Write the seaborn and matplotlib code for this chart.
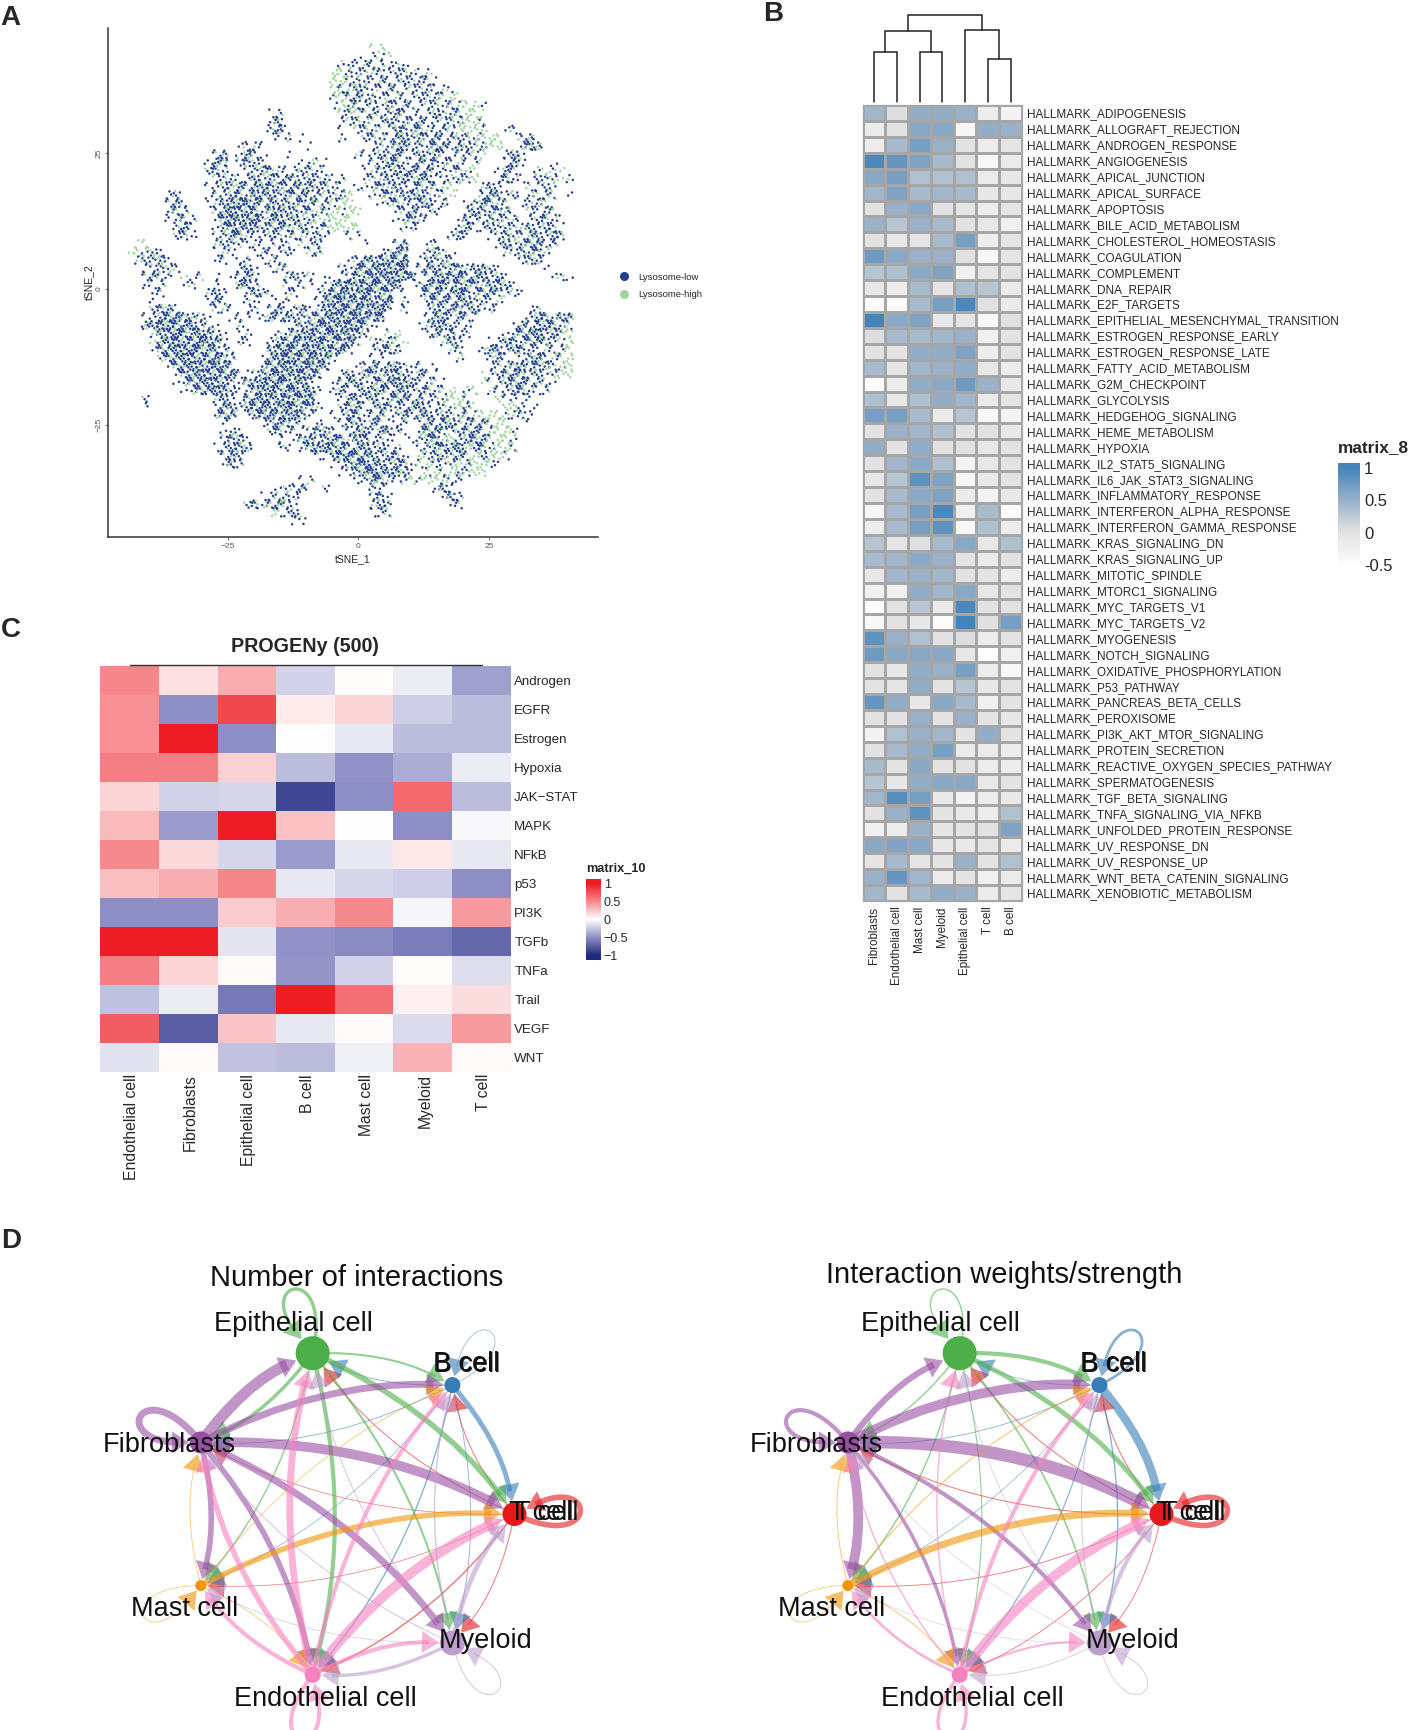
import numpy as np, pandas as pd
import matplotlib
matplotlib.use("Agg")
import matplotlib.pyplot as plt
from matplotlib.colors import LinearSegmentedColormap
from matplotlib.path import Path
from matplotlib.patches import PathPatch, Polygon, Circle
from matplotlib.lines import Line2D
from matplotlib.transforms import ScaledTranslation
import seaborn as sns

sns.set_style("white")
plt.rcParams['font.family'] = ['Liberation Sans', 'DejaVu Sans']

W, H = 1411, 1730
fig = plt.figure(figsize=(W/100, H/100), dpi=100)

def box(l, t, r, b):
    return fig.add_axes([l/W, 1-b/H, (r-l)/W, (b-t)/H])

def ftext(x, y, s, **k):
    k.setdefault('ha', 'center'); k.setdefault('va', 'center')
    fig.text(x/W, 1-y/H, s, **k)

# ---------- A: tSNE, one map character per 1.5 x 1.5 tSNE cell
TSNE_MAP = [
"                               oO",
"                             . x.o",
"                           x:.+:x.:.",
"                          OO+:x:+.:+:.x",
"                          OOx+:.+:x::+:.",
"                          O+x%:.:+:.x:+.x.",
"                          xO+#:+.:x:.::+xOo",
"                          .Ox+::.%:+:.x:.+xOO.",
"                  .:       x+O:+x:#:.:.%:x+OOo",
"                  :#       .x+:x:%:::%.:x+xOOx",
"                  :#.      . x+:x.%#:%::+xOOOx  .:",
"                   .x .    :  :+x.%#:%:#.+:+xOOO  :%",
"              .::.     .       .x:%#:::%#:%:x+OO  :#%",
"           :# .#:.  .        x.:%:#::%:%:.x+xo  :#.",
"          .#% :#+.    .:x.    .x:%#:.%:#::x.xo  .#:   .",
"          :#x  x:%+:.x:+:     .x+:%:#:%.:.+xo  .%:  xoxo",
"           x:+.:%x%:#+:%:+.:  .x:%:#:%#.:x+xO  .#:. +:xo:",
"          .:+x%:#%#%:#+%:+x. .x:#:%:.%:+xOo  :%:   x.+x",
"     :+   .x:%#:#%#:%+#:+x:+O  x:#:%#%:.xo   :#%.+ :x:x .",
"     :#.  .:#%#*%:#+%:#+x+xOO   .x%::#%.+  .:#%:x .:+x",
"     :+:   :%*#%#:%#+%:+x+OxOO    .:%:x:   :#%:#+  x.+:",
"     .:+:  .#*#%*:%#+%x+OxOOO     .:#:.   .#:.%:x+ .:%:.",
"      :#.  .%#%#%:+#%x%x.+OOOO     x:     :%.:+:+x:%:+:",
"      :+.  x:#%:.:+:.+x:%.  :.           :#.  .:%x:+%:#+",
" oO        x+:x.:.x.: x:+     .   :#  .:       :#x+%#:+",
"oOx+.      .x:  .+:.:. x+       .:#%  :%x.      x:%:#x",
" x+:%.     .: .: .x:        .:#%#%#* .%:+:        :%+",
"  .:+x:       :#. .:x      :.#%#*%#* :%#:%#:#%:.     .",
"  :%x: o.x . .:#:   :#.x . .:#%*#*%#* :#%#*:%#:%.     .x.",
"  :.:  .x  .  %#:   :.:. .%#*%#*%#*  :#%*:#%#:%#+.",
"   .:     :#.  :#+. .:  .%#*#%*#%# . .%#:%*#:%#+xx.",
"   .      .#:  :.  .:   .%#*%#*#%* :  :%#:%#:+.x",
"   :#%.    :x. .: :#.:#.:#%*#*%#*: :  .%:#%:#.:    .:",
"  .:%#*%+:.  .:. :%:#+:x%#*%#*#%*     :%#.%:.      :%#:#%",
"  %#*#%#*:x.  :     .:+%#*%#*#%.     .:#%:.:     .%:#%#:x",
"   x%#*#%*#:. .:   :x%#*%#*#%#:  xO   .%:#.:    .:%#*:%xO",
"   o%#*%#*#%: :.  :%#*%#*#%#*: x:+xo    x%:   .:%#:%#+:xO",
"   .%#*%*#%#:.    %#*%#*#%#*:  .:#+      x+  :%#:%#:.x:xO",
"    x%#*#%#*%:   .%#*#%*#%:    :.         x   :%. .%#:xxO",
"     .%#*%#*#:   :%#*%#*%#   .:%:%#:.: .      .x:%#:#%xxO",
"      .#%*#%#*:.:%#*%#*%#  :#.%#:%#:.%:.     o.:%#%:+.xOO",
"      .:%#*#%:.%#*%*#%#:  .:%#.:%#*%#.:x.    o.x:%#:+x.",
"       .:%#*%:.:%#*%#*%#: :%.:#%#:%#.:%:xO xO x.:%#:.:",
"  :        :#. %#*%#*%#*   .%#:%.:%#:%.:xOOx   O.: .",
"  .        .#%:%#*#%*#%#:  :#%.:%#:.%#:.x:O+o   OO: .",
"           :%# .%#*%#*%.  :.%#.:% :#.%#:%:x+xOOOx:+.",
"            .    .:#%:. :  :#:.%:..: .%:#%x+:%xOO  .",
"            .:.   :#.:.:#%: :%#.%#:. :%#+x:%#:xOOx",
"            :#%.   . .%#:%#%:%#.:.  .:%#xO:%#%xOOx",
"           .:#%+   .: :%#*%#:%#:%.:  x:%#%*O+%xOOx",
"            :#+         :.%#*%#%:%#. O:%+x%xO+OOx",
"            .#:           .:%#*%#:%#.xO:.xO+OOx.",
"                           .:%#*%#%:. xOxO+xOO",
"                      .x     .:#%:.:OxOOx.:",
"                   .x:#  :     :.      :#.",
"                 .:x+:         :#.      .#:",
"               :#x+%:.         x#:       .:",
"                  ox:#         .:x",
"                     .:",
]
LOW_COUNT = {'.':2, ':':3, '#':6, '%':5, '+':4, 'x':2, 'o':0, 'O':0, '*':8}
HIGH_COUNT = {'.':0, ':':1, '#':2, '%':3, '+':2, 'x':2, 'o':2, 'O':4, '*':2}
DOT_SLOTS = [(-.62,.31),(.18,-.58),(.55,.44),(-.2,-.12),(.67,-.25),(-.48,-.66),(.05,.63),
             (.36,.06),(-.7,-.28),(-.12,.34),(.42,-.7),(-.36,.7)]
GROUPS = ['Lysosome-low', 'Lysosome-high']
GROUP_COLORS = ['#233F8F', '#9FD6A0']
X0, Y0, CELL = -43.7, 44.3, 1.5

xs, ys, gs = [], [], []
n_slots = len(DOT_SLOTS)
for r, row in enumerate(TSNE_MAP):
    for c, ch in enumerate(row):
        if ch == ' ':
            continue
        start = (r*5+c*7) % n_slots
        for i in range(LOW_COUNT[ch]):
            sx, sy = DOT_SLOTS[(start+i) % n_slots]
            xs.append(X0+CELL*c+sx); ys.append(Y0-CELL*r+sy); gs.append(GROUPS[0])
        for i in range(HIGH_COUNT[ch]):
            sx, sy = DOT_SLOTS[(start-1-i) % n_slots]
            xs.append(X0+CELL*c+sx); ys.append(Y0-CELL*r+sy); gs.append(GROUPS[1])
tsne = pd.DataFrame({'tSNE_1': xs, 'tSNE_2': ys, 'group': gs})

axA = box(108, 27.6, 598, 537)
sns.scatterplot(data=tsne, x='tSNE_1', y='tSNE_2', hue='group', hue_order=GROUPS,
                palette=GROUP_COLORS, s=3.2, linewidth=0, legend=False, ax=axA)
axA.set_xlim(-47.9, 45.8); axA.set_ylim(-45.7, 48.1)
sns.despine(ax=axA)
for s in ['left', 'bottom']:
    axA.spines[s].set_color('#333333'); axA.spines[s].set_linewidth(1.1)
axA.set_xticks([-25, 0, 25]); axA.set_yticks([-25, 0, 25])
axA.tick_params(length=2, width=.6, color='#555555', labelcolor='#555555', labelsize=6, pad=2, bottom=True, left=True)
axA.set_xlabel('tSNE_1', fontsize=7.5, labelpad=3)
axA.set_ylabel('tSNE_2', fontsize=7.5, labelpad=1)
axA.set_yticklabels(['−25', '0', '25'], rotation=90, va='center')
axA.legend(handles=[Line2D([], [], marker='o', ls='', ms=5.5, color=c, label=g) for g, c in zip(GROUPS, GROUP_COLORS)],
           loc='center left', bbox_to_anchor=(606/W, 1-286/H), bbox_transform=fig.transFigure,
           frameon=False, fontsize=6.8, labelspacing=.9, handletextpad=.5)

# ---------- B: hallmark heatmap
B_COLUMNS = ['Fibroblasts', 'Endothelial cell', 'Mast cell', 'Myeloid', 'Epithelial cell', 'T cell', 'B cell']
B_ROWS = ['ADIPOGENESIS','ALLOGRAFT_REJECTION','ANDROGEN_RESPONSE','ANGIOGENESIS','APICAL_JUNCTION','APICAL_SURFACE',
 'APOPTOSIS','BILE_ACID_METABOLISM','CHOLESTEROL_HOMEOSTASIS','COAGULATION','COMPLEMENT','DNA_REPAIR','E2F_TARGETS',
 'EPITHELIAL_MESENCHYMAL_TRANSITION','ESTROGEN_RESPONSE_EARLY','ESTROGEN_RESPONSE_LATE','FATTY_ACID_METABOLISM',
 'G2M_CHECKPOINT','GLYCOLYSIS','HEDGEHOG_SIGNALING','HEME_METABOLISM','HYPOXIA','IL2_STAT5_SIGNALING',
 'IL6_JAK_STAT3_SIGNALING','INFLAMMATORY_RESPONSE','INTERFERON_ALPHA_RESPONSE','INTERFERON_GAMMA_RESPONSE',
 'KRAS_SIGNALING_DN','KRAS_SIGNALING_UP','MITOTIC_SPINDLE','MTORC1_SIGNALING','MYC_TARGETS_V1','MYC_TARGETS_V2',
 'MYOGENESIS','NOTCH_SIGNALING','OXIDATIVE_PHOSPHORYLATION','P53_PATHWAY','PANCREAS_BETA_CELLS','PEROXISOME',
 'PI3K_AKT_MTOR_SIGNALING','PROTEIN_SECRETION','REACTIVE_OXYGEN_SPECIES_PATHWAY','SPERMATOGENESIS','TGF_BETA_SIGNALING',
 'TNFA_SIGNALING_VIA_NFKB','UNFOLDED_PROTEIN_RESPONSE','UV_RESPONSE_DN','UV_RESPONSE_UP','WNT_BETA_CATENIN_SIGNALING',
 'XENOBIOTIC_METABOLISM']
B_VALUES = [
[.45,.05,.55,.55,.5,-.2,-.3],[-.15,0,.6,.6,-.35,.55,.5],[-.2,.4,.7,.5,0,-.2,-.05],[.95,.8,.65,.4,0,-.4,-.15],
[.6,.7,.35,.35,.35,-.15,-.1],[.45,.65,.4,.45,.4,-.1,-.1],[0,.5,.6,0,-.05,-.2,-.05],[.5,.3,.5,.4,0,-.1,-.25],
[0,-.1,-.05,.4,.7,-.2,-.05],[.75,.6,.5,.5,.02,-.35,-.05],[.3,.35,.6,.65,-.25,-.05,-.02],[-.08,-.2,.4,-.05,.35,.3,-.15],
[-.45,-.45,.4,.7,.95,.02,-.15],[1,.6,.65,-.1,-.05,-.4,.02],[.05,.4,.4,.45,.5,-.25,-.02],[0,-.03,.55,.55,.65,-.2,-.02],
[.4,-.05,.45,.5,.55,-.1,-.2],[-.5,-.2,.55,.6,.75,.5,-.1],[.35,-.1,.35,.55,.45,-.15,-.05],[.7,.7,.4,-.15,.3,-.4,-.3],
[0,.5,.45,.35,0,0,-.1],[.55,-.02,.55,0,.02,-.1,-.02],[0,.45,.6,.35,-.3,-.1,-.02],[-.08,.3,.85,.65,-.35,-.12,-.02],
[0,.4,.6,.65,-.15,-.3,-.1],[-.35,.4,.7,.95,-.25,.4,-.45],[-.2,.4,.7,.85,-.4,.35,-.2],[.3,-.05,.03,.4,.6,-.1,.35],
[.4,.45,.6,.5,-.03,-.15,0],[-.08,.45,.5,.45,0,-.03,-.2],[-.25,-.25,.55,.45,.6,-.08,-.02],[-.5,-.02,.3,-.15,.95,0,-.02],
[-.4,0,-.1,-.45,1,.02,.7],[.85,.5,.35,0,.05,-.2,-.02],[.75,.6,.6,.6,-.08,-.5,-.25],[0,-.1,.55,.5,.7,-.2,-.4],
[-.02,-.05,.55,-.02,.3,-.1,-.02],[.8,.55,-.1,.6,.4,-.25,-.03],[0,0,.5,-.02,.5,-.02,-.1],[-.3,.35,.5,.45,-.03,.55,-.03],
[0,.4,.55,.7,-.15,-.15,-.2],[.4,-.02,.6,-.02,0,-.2,-.2],[.3,-.1,.55,.6,.6,-.12,-.03],[.45,.9,.7,-.12,-.3,-.2,-.12],
[0,.5,.85,-.03,-.12,-.2,.35],[-.25,-.2,.5,-.05,-.03,0,.65],[.6,.65,.6,-.1,-.12,-.05,-.15],[-.05,.4,-.05,-.02,.5,-.03,.35],
[.5,.8,.45,-.15,-.03,-.25,-.15],[.45,0,.4,.55,.5,-.15,-.05]]
B_MIN, B_MAX = -.55, 1.08
cmapB = LinearSegmentedColormap.from_list('b', [
    ((v-B_MIN)/(B_MAX-B_MIN), c) for v, c in [(-.55,'#FFFFFF'),(-.45,'#FBFBFB'),(0,'#E2E2E2'),(.5,'#9AB1C9'),(1,'#4484BA'),(1.08,'#4484BA')]])
axB = box(862.6, 105, 1022, 901)
caxB = box(1338, 463, 1360, 568)
sns.heatmap(pd.DataFrame(B_VALUES, index=['HALLMARK_'+r for r in B_ROWS], columns=B_COLUMNS), ax=axB, cbar_ax=caxB, cmap=cmapB,
            vmin=B_MIN, vmax=B_MAX, linewidths=.9, linecolor='#A6A6A6', xticklabels=True, yticklabels=True,
            cbar_kws={'ticks': [-.5, 0, .5, 1]})
for s in axB.spines.values():
    s.set_visible(True); s.set_color('#A6A6A6'); s.set_linewidth(.9)
axB.yaxis.tick_right()
axB.tick_params(axis='y', length=0, pad=3.5, labelsize=8.5, rotation=0)
axB.tick_params(axis='x', length=0, pad=4, labelsize=8.4, rotation=90)
caxB.set_yticklabels(['-0.5', '0', '0.5', '1'])
caxB.tick_params(direction='in', left=True, right=True, color='white', length=3, width=.8, labelsize=12, pad=3)
ftext(1338, 448, 'matrix_8', fontsize=12.4, fontweight='bold', ha='left')

# dendrogram of panel B: column merge heights
DENDRO_MERGES = [((0, 0), (1, 0), .57), ((2, 0), (3, 0), .57), ((5, 0), (6, 0), .49),
                 ((.5, .57), (2.5, .57), .82), ((4, 0), (5.5, .49), .825), ((1.5, .82), (4.75, .825), 1.0)]
axD0 = box(862.6, 15.4, 1022, 101.5)
axD0.set_xlim(-.5, 6.5); axD0.set_ylim(0, 1.0); axD0.axis('off')
for (xa, ya), (xb, yb), h in DENDRO_MERGES:
    axD0.plot([xa, xa, xb, xb], [ya, h, h, yb], color='#222222', lw=1.1, solid_joinstyle='miter', clip_on=False)

# ---------- C: PROGENy heatmap
C_COLUMNS = ['Endothelial cell', 'Fibroblasts', 'Epithelial cell', 'B cell', 'Mast cell', 'Myeloid', 'T cell']
C_ROWS = ['Androgen','EGFR','Estrogen','Hypoxia','JAK-STAT','MAPK','NFkB','p53','PI3K','TGFb','TNFa','Trail','VEGF','WNT']
C_VALUES = [
[.52,.13,.35,-.2,.01,-.08,-.42],[.47,-.5,.8,.08,.18,-.22,-.3],[.47,1,-.5,0,-.1,-.3,-.3],[.55,.55,.2,-.3,-.48,-.37,-.08],
[.18,-.2,-.18,-.85,-.5,.65,-.3],[.3,-.45,1,.27,0,-.5,-.03],[.5,.16,-.18,-.45,-.1,.1,-.1],[.28,.35,.52,-.1,-.18,-.22,-.5],
[-.5,-.5,.22,.35,.5,-.04,.43],[1,1,-.12,-.48,-.52,-.58,-.68],[.55,.18,.02,-.47,-.2,.01,-.15],[-.28,-.08,-.6,1,.62,.07,.15],
[.7,-.75,.25,-.1,.02,-.16,.43],[-.13,.02,-.27,-.3,-.07,.32,.02]]
C_LIM = 1.13
cmapC = LinearSegmentedColormap.from_list('c', [
    ((v+C_LIM)/(2*C_LIM), c) for v, c in [(-C_LIM,'#1F2A80'),(-1,'#1F2A80'),(-.5,'#8E8EC6'),(0,'#FFFFFF'),(.5,'#F58A8E'),(1,'#EE1C25'),(C_LIM,'#EE1C25')]])
axC = box(100.4, 666, 510.7, 1072)
caxC = box(586, 879, 601, 960)
sns.heatmap(pd.DataFrame(C_VALUES, index=C_ROWS, columns=C_COLUMNS), ax=axC, cbar_ax=caxC, cmap=cmapC, vmin=-C_LIM, vmax=C_LIM,
            xticklabels=True, yticklabels=True, cbar_kws={'ticks': [-1, -.5, 0, .5, 1]})
axC.yaxis.tick_right()
axC.tick_params(axis='y', length=0, pad=2.5, labelsize=9.6, rotation=0)
axC.tick_params(axis='x', length=0, pad=1.5, labelsize=11.3, rotation=90)
axC.set_yticklabels([s.replace('-', '\u2212') for s in C_ROWS])
shift = ScaledTranslation(2/100, 0, fig.dpi_scale_trans)
for t in axC.get_xticklabels():
    t.set_transform(t.get_transform()+shift)
caxC.set_yticklabels(['\u22121', '\u22120.5', '0', '0.5', '1'])
caxC.tick_params(direction='in', left=True, right=True, color='white', length=2, width=.6, labelsize=9, pad=2)
ftext(616, 869, 'matrix_10', fontsize=9.2, fontweight='bold')
ftext(305, 646, 'PROGENy (500)', fontsize=14.2, fontweight='bold')
fig.add_artist(Line2D([130/W, 482/W], [1-665/H, 1-665/H], color='#333333', lw=1))

# ---------- D: interaction networks
NODES = ['T cell', 'B cell', 'Epithelial cell', 'Fibroblasts', 'Mast cell', 'Endothelial cell', 'Myeloid']
NODE_COLORS = ['#E41A1C', '#377EB8', '#4DAF4A', '#984EA3', '#F29403', '#F781BF', '#BC9DCC']
NODE_ANGLES = [0, 51.4, 102.9, 154.3, 205.7, 257.1, 308.6]
NODE_RADII = [12, 8, 17, 11, 5.5, 8, 12.5]
# edge widths (points), source in rows, target in columns, order as NODES
N_COUNT = [
[4.0,.7,.7,.5,.5,1.0,.7],
[3.5,.5,.6,.6,.5,1.0,.6],
[4.0,1.5,2.5,2.5,1.0,3.0,1.5],
[7.0,5.0,8.0,5.0,4.0,4.0,5.0],
[4.0,.5,0,.5,.5,.5,0],
[7.0,3.0,5.0,4.0,3.0,3.0,3.0],
[3.5,1.0,.7,.7,.5,2.5,.7]]
N_WEIGHT = [
[4.0,.7,.7,.7,.6,.6,.6],
[6.0,2.0,.5,.6,.5,.8,1.0],
[3.5,3.0,1.0,1.0,1.0,.8,1.2],
[9.0,7.0,4.5,3.0,7.0,2.5,3.0],
[5.0,.7,0,.6,.5,.6,0],
[7.0,3.0,1.0,1.0,2.0,2.5,1.5],
[3.0,.7,.5,.4,.4,.6,.6]]
LABEL_SHIFT = {'T cell': (27, -1), 'B cell': (14, -21), 'Epithelial cell': (-19, -29), 'Fibroblasts': (-32, 3),
               'Mast cell': (-16, 23), 'Endothelial cell': (13, 24), 'Myeloid': (33, -2)}
R, CURVE, ALPHA = 165, .13, .6
HEAD_LEN, HEAD_W = 17, 22

def network(ax, cx, cy, matrix, title, tx, ty):
    pos = [(cx+R*np.cos(np.radians(a)), cy-R*np.sin(np.radians(a))) for a in NODE_ANGLES]
    for i, row in enumerate(matrix):
        col = NODE_COLORS[i]
        for j, lw in enumerate(row):
            if lw <= 0:
                continue
            p0, p2 = np.array(pos[i]), np.array(pos[j])
            if i == j:
                o = (p0-np.array([cx, cy]))/R
                n = np.array([-o[1], o[0]])
                c1, c2 = p0+o*84+n*40, p0+o*84-n*40
                u = (p0-c2)/np.linalg.norm(p0-c2)
                tip = p0-u*(NODE_RADII[j]+1)
                end = tip-u*HEAD_LEN*.6
                ax.add_patch(PathPatch(Path([p0, c1, c2, end], [1, 4, 4, 4]), fc='none', ec=col, lw=lw, alpha=ALPHA, capstyle='butt'))
            else:
                d = p2-p0
                c = (p0+p2)/2+CURVE*np.array([d[1], -d[0]])
                u = (p2-c)/np.linalg.norm(p2-c)
                tip = p2-u*(NODE_RADII[j]+1)
                end = tip-u*HEAD_LEN*.6
                ax.add_patch(PathPatch(Path([p0, c, end], [1, 3, 3]), fc='none', ec=col, lw=lw, alpha=ALPHA, capstyle='butt'))
            v = np.array([-u[1], u[0]])
            base = tip-u*HEAD_LEN
            ax.add_patch(Polygon([tip, base+v*HEAD_W/2, base-v*HEAD_W/2], fc=col, ec='none', alpha=ALPHA))
    for (x, y), col, r in zip(pos, NODE_COLORS, NODE_RADII):
        ax.add_patch(Circle((x, y), r, fc=col, ec='none', zorder=5))
    for (x, y), name in zip(pos, NODES):
        dx, dy = LABEL_SHIFT[name]
        ax.text(x+dx, y+dy, name, fontsize=19.5, ha='center', va='center', zorder=6, color='#111111')
        if name == 'T cell':
            ax.text(x+dx+5, y+dy, name, fontsize=19.5, ha='center', va='center', zorder=6, color='#111111')
        if name == 'B cell':
            ax.text(x+dx+1.2, y+dy+.5, name, fontsize=19.5, ha='center', va='center', zorder=6, color='#111111')
    ax.text(tx, ty, title, fontsize=21, ha='center', va='center', color='#111111')

for (l, r), cx, matrix, title, tx, ty in [((60, 660), 349.5, N_COUNT, 'Number of interactions', 357, 1278),
                                          ((700, 1400), 996.5, N_WEIGHT, 'Interaction weights/strength', 1004, 1275)]:
    ax = box(l, 1240, r, 1730)
    ax.set_xlim(l, r); ax.set_ylim(1730, 1240); ax.axis('off')
    network(ax, cx, 1514, matrix, title, tx, ty)

# ---------- panel letters
for s, x, y in [('A', 10, 18), ('B', 773, 14), ('C', 11, 630), ('D', 11, 1241)]:
    ftext(x, y, s, fontsize=20, fontweight='bold')

fig.savefig('out.png', dpi=100)
